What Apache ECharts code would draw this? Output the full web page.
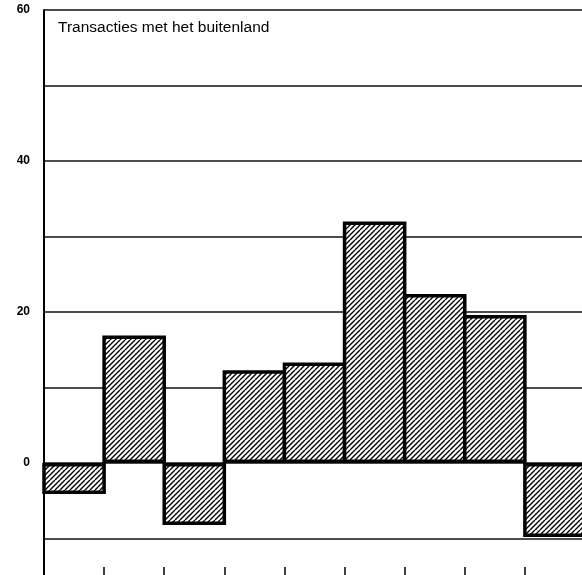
<!DOCTYPE html>
<html><head><meta charset="utf-8">
<script src="https://cdn.jsdelivr.net/npm/echarts@6/dist/echarts.min.js"></script>
<style>html,body{margin:0;padding:0;background:#fff}#c{width:582px;height:575px}</style>
</head><body><div id="c"></div>
<script>
const categories = ['1', '2', '3', '4', '5', '6', '7', '8', '9'];
const values = [-4.1, 16.9, -8.2, 12.3, 13.3, 32.0, 22.4, 19.6, -9.8];
const yLabelValues = [0, 20, 40, 60];
const titleText = 'Transacties met het buitenland';

function hatch() {
  const c = document.createElement('canvas');
  c.width = 10; c.height = 10;
  const g = c.getContext('2d');
  g.fillStyle = '#fff'; g.fillRect(0, 0, 10, 10);
  g.strokeStyle = '#000'; g.lineWidth = 1.4;
  g.beginPath();
  for (let i = -10; i <= 10; i += 5) { g.moveTo(i, 10); g.lineTo(i + 10, 0); }
  g.stroke();
  return c;
}

const chart = echarts.init(document.getElementById('c'), null, {renderer: 'canvas'});
chart.setOption({
  animation: false,
  backgroundColor: '#fff',
  grid: [
    {left: 44, width: 541, top: 10, height: 604, containLabel: false, outerBoundsMode: 'none'},
    {left: 44, width: 541, top: 565, height: 10, containLabel: false, outerBoundsMode: 'none'}
  ],
  xAxis: [{
    type: 'category',
    gridIndex: 0,
    data: categories,
    axisLine: {show: false},
    axisTick: {show: false},
    axisLabel: {show: false},
    splitLine: {show: false}
  }, {
    type: 'category',
    gridIndex: 1,
    data: categories,
    axisLine: {show: false},
    axisTick: {show: true, inside: true, length: 8, lineStyle: {color: '#000', width: 1.5}},
    axisLabel: {show: false},
    splitLine: {show: false}
  }],
  yAxis: [{
    type: 'value',
    gridIndex: 0,
    min: -20, max: 60, interval: 10,
    axisLine: {show: true, lineStyle: {color: '#000', width: 2}},
    axisTick: {show: false},
    splitLine: {show: true, lineStyle: {color: '#111', width: 1.5}},
    axisLabel: {
      margin: 14,
      color: '#000',
      fontSize: 12,
      fontWeight: 'bold',
      fontFamily: 'Liberation Sans',
      formatter: v => yLabelValues.indexOf(v) >= 0 ? String(v) : ''
    }
  }, {
    type: 'value', gridIndex: 1, min: 0, max: 1, show: false
  }],
  graphic: [{
    type: 'text', left: 58, top: 20,
    style: {text: titleText, fontSize: 15.5, fontFamily: 'Liberation Sans', fill: '#000'}
  }],
  series: [{
    type: 'bar',
    xAxisIndex: 0, yAxisIndex: 0,
    data: values,
    barCategoryGap: '0%',
    barWidth: 63.6,
    itemStyle: {
      color: {image: hatch(), repeat: 'repeat'},
      borderColor: '#000',
      borderWidth: 3.5
    }
  }]
});
</script></body></html>
